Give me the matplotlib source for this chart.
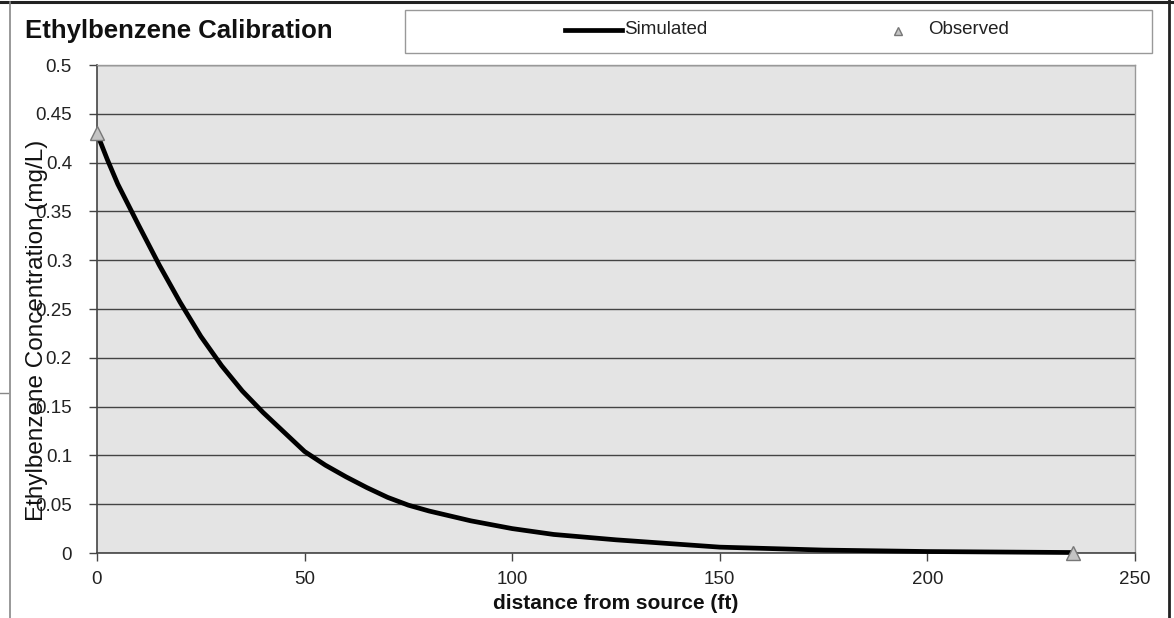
import matplotlib
matplotlib.use("Agg")
import matplotlib.pyplot as plt
from matplotlib.lines import Line2D
from matplotlib.patches import Rectangle

# Simulated concentration profile along the flow path
distance_ft = [0, 2.5, 5, 10, 15, 20, 25, 30, 35, 40, 45, 50, 55, 60, 65, 70, 75, 80,
               90, 100, 110, 125, 150, 175, 200, 235]
simulated_mgL = [0.430, 0.403, 0.378, 0.336, 0.295, 0.257, 0.222, 0.192, 0.166, 0.144,
                 0.124, 0.104, 0.090, 0.078, 0.067, 0.057, 0.049, 0.043,
                 0.033, 0.025, 0.019, 0.0135, 0.006, 0.003, 0.0015, 0.0005]

# Measured concentrations at the source and the downgradient well
observed_ft = [0, 235]
observed_mgL = [0.43, 0.0]

x_ticks = [0, 50, 100, 150, 200, 250]
y_ticks = [0, 0.05, 0.1, 0.15, 0.2, 0.25, 0.3, 0.35, 0.4, 0.45, 0.5]
y_tick_labels = ["0", "0.05", "0.1", "0.15", "0.2", "0.25", "0.3", "0.35", "0.4", "0.45", "0.5"]

plt.rcParams["font.family"] = ["Liberation Sans", "DejaVu Sans"]

W, H = 1174, 618
fig = plt.figure(figsize=(W / 100, H / 100), dpi=100)
fig.patch.set_facecolor("white")

# chart frame
fig.add_artist(Line2D([0, 1], [1 - 1.5 / H, 1 - 1.5 / H], color="#222222", lw=2.2,
                      transform=fig.transFigure))
fig.add_artist(Line2D([10 / W, 10 / W], [0, 1 - 2 / H], color="#888888", lw=1.2,
                      transform=fig.transFigure))
fig.add_artist(Line2D([1169 / W, 1169 / W], [0, 1], color="#222222", lw=2.0,
                      transform=fig.transFigure))
fig.add_artist(Line2D([0, 8 / W], [1 - 393 / H, 1 - 393 / H], color="#888888", lw=1.0,
                      transform=fig.transFigure))

ax = fig.add_axes([97 / W, 1 - 553 / H, (1135 - 97) / W, (553 - 65) / H])
ax.set_facecolor("#e4e4e4")
ax.set_xlim(0, 250)
ax.set_ylim(0, 0.5)

ax.set_yticks(y_ticks)
ax.set_yticklabels(y_tick_labels)
ax.set_xticks(x_ticks)
ax.tick_params(axis="both", direction="out", length=6, width=1, color="#444444",
               labelsize=13.5, labelcolor="#222222")
ax.tick_params(axis="y", pad=12)
ax.tick_params(axis="x", pad=7)

ax.grid(axis="y", color="#444444", lw=1.0)
ax.set_axisbelow(True)
for side in ["left", "bottom"]:
    ax.spines[side].set_color("#444444")
    ax.spines[side].set_linewidth(1.2)
for side in ["top", "right"]:
    ax.spines[side].set_color("#999999")
    ax.spines[side].set_linewidth(1.0)

ax.plot(distance_ft, simulated_mgL, color="black", lw=3.4, solid_capstyle="round",
        solid_joinstyle="round", zorder=3, clip_on=False)
ax.plot(observed_ft, observed_mgL, linestyle="none", marker="^", markersize=10,
        markerfacecolor="#c4c4c4", markeredgecolor="#777777", markeredgewidth=1.0,
        zorder=4, clip_on=False)

ax.set_xlabel("distance from source (ft)", fontsize=15, fontweight="bold",
              color="#111111", labelpad=4)
fig.text(37 / W, 1 - 330 / H, "Ethylbenzene Concentration (mg/L)", rotation=90,
         ha="center", va="center", fontsize=17.5, color="#111111")

fig.text(25 / W, 1 - 31 / H, "Ethylbenzene Calibration", ha="left", va="center",
         fontsize=18.5, fontweight="bold", color="#111111")

# legend box
fig.add_artist(Rectangle((405 / W, 1 - 53 / H), (1152 - 405) / W, 43 / H,
                         transform=fig.transFigure, facecolor="white",
                         edgecolor="#999999", lw=1.0))
fig.add_artist(Line2D([565 / W, 622 / W], [1 - 30 / H, 1 - 30 / H], color="black",
                      lw=3.4, transform=fig.transFigure))
fig.text(624 / W, 1 - 30 / H, "Simulated", ha="left", va="center", fontsize=13.5,
         color="#222222")
fig.add_artist(Line2D([898 / W], [1 - 31 / H], marker="^", markersize=6,
                      markerfacecolor="#c4c4c4", markeredgecolor="#777777",
                      linestyle="none", transform=fig.transFigure))
fig.text(928 / W, 1 - 30 / H, "Observed", ha="left", va="center", fontsize=13.5,
         color="#222222")

fig.savefig("out.png", dpi=100)
